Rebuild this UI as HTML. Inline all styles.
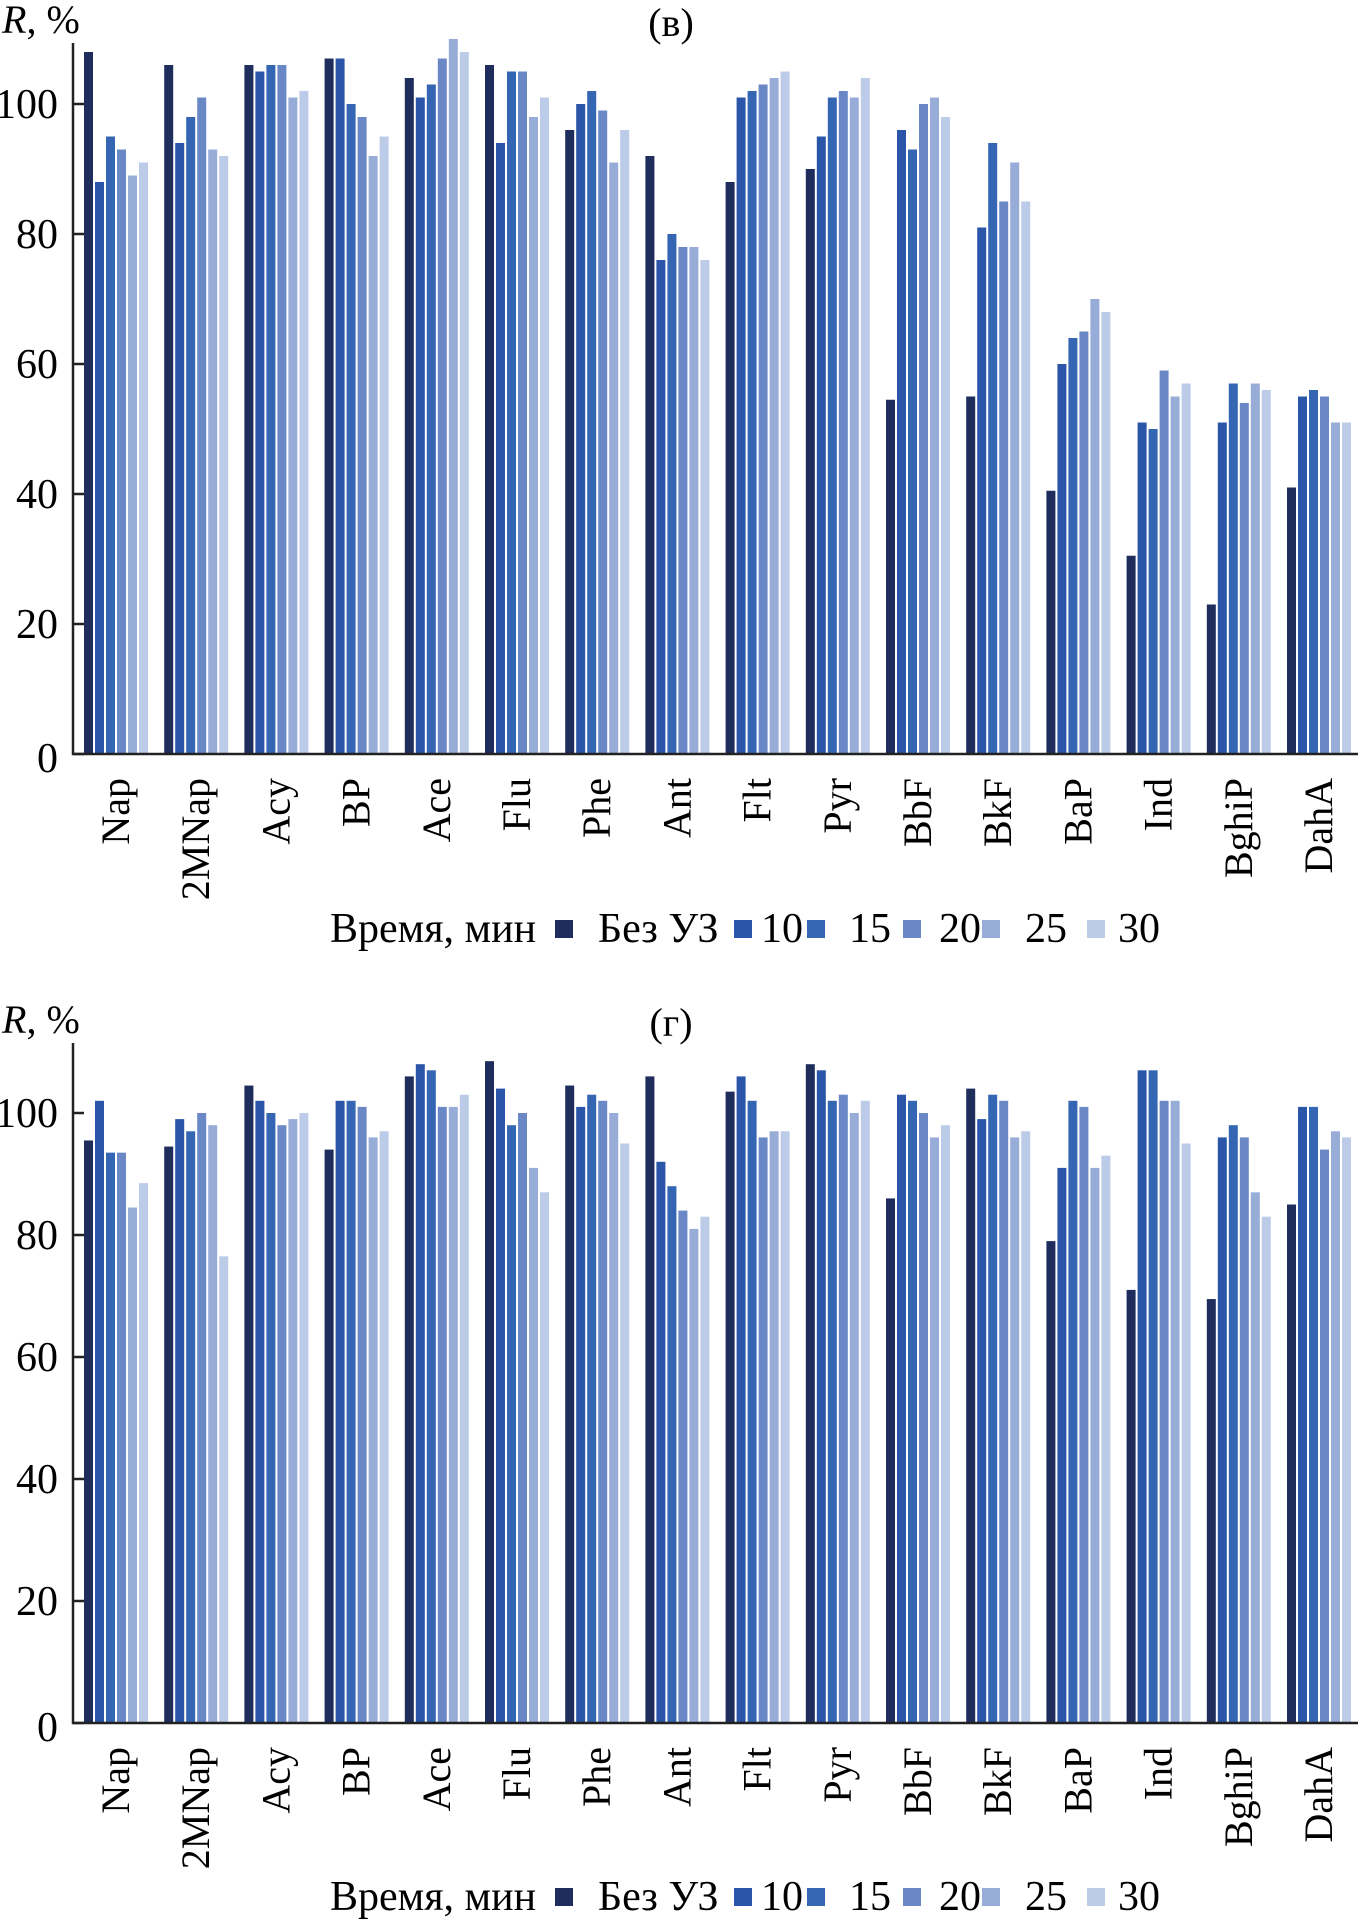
<!DOCTYPE html>
<html><head><meta charset="utf-8"><style>
html,body{margin:0;padding:0;background:#fff}
svg{display:block;font-family:"Liberation Serif",serif;}
</style></head><body>
<svg id="s" width="1362" height="1926" viewBox="0 0 1362 1926" xmlns="http://www.w3.org/2000/svg"></svg>
<script>
const categories=["Nap","2MNap","Acy","BP","Ace","Flu","Phe","Ant","Flt","Pyr","BbF","BkF","BaP","Ind","BghiP","DahA"];
const seriesNames=["Без УЗ","10","15","20","25","30"];
const colors=["#1f2d5c","#2b55a8","#3566b4","#6a88c6","#98acd8","#bccbe8"];
const yTicks=[0,20,40,60,80,100];
const valuesV=[
[108,88,95,93,89,91],[106,94,98,101,93,92],[106,105,106,106,101,102],[107,107,100,98,92,95],
[104,101,103,107,110,108],[106,94,105,105,98,101],[96,100,102,99,91,96],[92,76,80,78,78,76],
[88,101,102,103,104,105],[90,95,101,102,101,104],[54.5,96,93,100,101,98],[55,81,94,85,91,85],
[40.5,60,64,65,70,68],[30.5,51,50,59,55,57],[23,51,57,54,57,56],[41,55,56,55,51,51]];
const valuesG=[
[95.5,102,93.5,93.5,84.5,88.5],[94.5,99,97,100,98,76.5],[104.5,102,100,98,99,100],[94,102,102,101,96,97],
[106,108,107,101,101,103],[108.5,104,98,100,91,87],[104.5,101,103,102,100,95],[106,92,88,84,81,83],
[103.5,106,102,96,97,97],[108,107,102,103,100,102],[86,103,102,100,96,98],[104,99,103,102,96,97],
[79,91,102,101,91,93],[71,107,107,102,102,95],[69.5,96,98,96,87,83],[85,101,101,94,97,96]];
const svg=document.getElementById('s');
const NS="http://www.w3.org/2000/svg";
function mk(tag,attrs,parent){const e=document.createElementNS(NS,tag);for(const k in attrs)e.setAttribute(k,attrs[k]);(parent||svg).appendChild(e);return e;}
function panel(id,vals,y0,y100,axTop,letter,labelTop,legendY){
  const g=mk('g',{});
  
  
  const axX=73, pitch=80.2, off=11, bw=9, bp=11;
  const yS=v=>y0-(y0-y100)*v/100;
  const t=mk('text',{x:2,y:axTop-10,'font-size':40},g);
  
  
  t.innerHTML='<tspan font-style="italic">R</tspan>, %';
  const pl=mk('text',{x:671,y:axTop-7,'font-size':40,'text-anchor':'middle'},g);
  
  
  pl.textContent=letter;
  vals.forEach((row,i)=>{
    const gx=axX+off+i*pitch;
    row.forEach((v,j)=>{
      const r=mk('rect',{x:gx+j*bp,y:yS(v),width:bw,height:y0-yS(v),fill:colors[j]},g);
      
      
    });
    const cx=gx+(5*bp+bw)/2+13;
    const lb=mk('text',{x:cx,y:labelTop,'font-size':40,'text-anchor':'end',transform:`rotate(-90 ${cx} ${labelTop})`},g);
    
    
    lb.textContent=categories[i];
  });
  const ax=mk('path',{d:`M${axX} ${axTop} V${y0} H1358`,stroke:'#222','stroke-width':2.5,fill:'none'},g);
  
  
  yTicks.forEach(v=>{
    const tk=mk('line',{x1:axX,x2:axX+11,y1:yS(v),y2:yS(v),stroke:'#222','stroke-width':2.5},g);
    
    
    const tl=mk('text',{x:58,y:yS(v)+(v===0?18:14),'font-size':42,'text-anchor':'end'},g);
    
    
    tl.textContent=v;
  });
  const lt=mk('text',{x:330,y:legendY,'font-size':42},g);
  
  
  lt.textContent='Время, мин';
  const sqX=[555,734,807,903,982,1087];
  const txX=[598,761,849,939,1025,1118];
  seriesNames.forEach((n,j)=>{
    const sq=mk('rect',{x:sqX[j],y:legendY-22,width:18,height:18,fill:colors[j]},g);
    
    
    const tx=mk('text',{x:txX[j],y:legendY,'font-size':42},g);
    
    
    tx.textContent=n;
  });
}
panel('v',valuesV,754,104,43,'(в)',778,942);
panel('g',valuesG,1723,1113,1043,'(г)',1747,1910);
</script>
</body></html>
